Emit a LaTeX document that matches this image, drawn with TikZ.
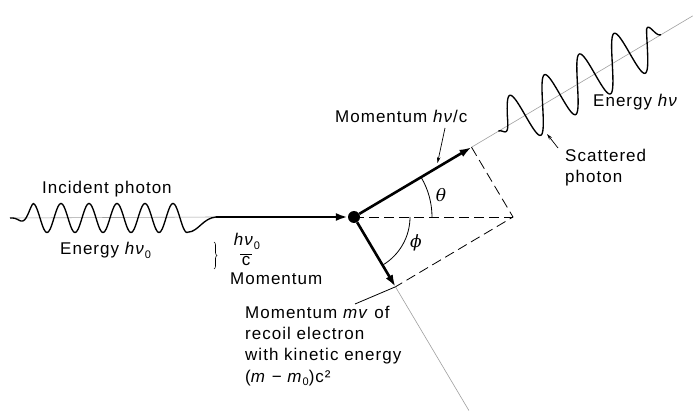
\documentclass[tikz,border=0pt]{standalone}
\usepackage{fontspec}
\setmainfont{Liberation Sans}[LetterSpace=6]
\newfontfamily\grk{DejaVu Serif}
\usetikzlibrary{arrows.meta,decorations.pathreplacing,calc}
\newcommand\lo[1]{\raisebox{-0.35ex}{\fontsize{11}{11}\selectfont #1}}
\begin{document}
\begin{tikzpicture}[x=1pt,y=1pt,
  lab/.style={font=\fontsize{17}{21.3}\selectfont, inner sep=0pt},
  greek/.style={font=\grk\itshape\fontsize{17}{20}\selectfont, inner sep=0pt},
  momarrow/.style={line width=2.6pt, -{Latex[length=12pt,width=8pt]}},
  dashln/.style={line width=0.8pt, dash pattern=on 10pt off 5pt},
  axisln/.style={line width=0.6pt, gray!75},
  wave/.style={line width=1.35pt},
  leader/.style={line width=0.7pt, -{Stealth[length=6pt,width=3.5pt]}},
  thinln/.style={line width=0.8pt}
]
\useasboundingbox (0,0) rectangle (694,-414);

% key points
\node[circle, fill, inner sep=0pt, minimum size=12pt] (e) at (354,-217) {};
\coordinate (inc) at (216,-217);
\coordinate (w0) at (10,-218);
\coordinate (s) at ($(e)+(30.7:136.7)$);
\coordinate (h) at (513,-217);
\coordinate (f) at ($(e)+(-59.3:81.2)$);
\coordinate (send) at ($(e)+(30.7:394)$);
\coordinate (fend) at ($(e)+(-59.3:225)$);
\coordinate (lead) at (355,-304);

% thin axis lines
\draw[axisln] (w0) -- (inc);
\draw[axisln] (s) -- (send);
\draw[axisln] (f) -- (fend);

% dashed construction lines
\draw[dashln] (e.center) -- (h);
\draw[dashln] (s) -- (h) -- (f);
\draw[thinln] (f) -- (lead);

% angle arcs
\draw[thinln] ($(e)+(0:78)$) arc[start angle=0, end angle=30.7, radius=78];
\draw[thinln] ($(e)+(0:56)$) arc[start angle=0, end angle=-59.3, radius=56];
\node[greek] (th) at (441,-195) {θ};
\node[greek] (ph) at (416,-243) {ϕ};

% incident wave
\draw[wave] plot[domain=10:188, samples=160, smooth]
  (\x, {-218 + 14.5*min(1,((\x-10)/23)^2)*sin(((\x-26)/28)*360)})
  .. controls (198,-232) and (203,-218) .. (inc);

% scattered wave
\begin{scope}[shift={(354,-217)}, rotate=30.7]
\draw[wave] plot[domain=168:357, samples=240, smooth]
  ({\x + 6.73*min(1,((\x-168)/13)^2,((358-\x)/14)^2)*sin(((\x-178.9)/40.5)*360)},
   {25.1*min(1,((\x-168)/13)^2,((358-\x)/14)^2)*sin(((\x-178.9)/40.5)*360)});
\end{scope}

% momentum arrows
\draw[momarrow] (inc) -- (e);
\draw[momarrow] (e) -- (s);
\draw[momarrow] (e) -- (f);

% labels
\node[lab, anchor=base west] (incl) at (42,-194) {Incident photon};
\node[lab, anchor=base west] (en0) at (60,-255) {Energy \textit{hν}\lo{0}};
\draw[decorate, decoration={brace, amplitude=3pt}, line width=0.6pt] (214,-242) -- (214,-269);
\node[lab, anchor=base] (num) at (247,-246) {\textit{hν}\lo{0}};
\draw[line width=0.5pt] (240,-254) -- (252,-254);
\node[lab, anchor=base] (den) at (246,-266) {c};
\node[lab, anchor=base west] (mom0) at (230,-285) {Momentum};

\node[lab, anchor=base west] (moms) at (335,-123) {Momentum \textit{hν}/c};
\coordinate (ml) at (445,-128);
\coordinate (mt) at (437.5,-163);
\draw[leader] (ml) -- (mt);

\node[lab, anchor=base west] (ens) at (593,-107) {Energy \textit{hν}};
\node[lab, anchor=base west, align=left] (scl) at (565,-183) {Scattered\\photon};
\coordinate (sl) at (558,-148);
\coordinate (st) at (547,-134);
\draw[leader] (sl) -- (st);

\node[lab, anchor=base west, align=left] (rec) at (245,-382)
  {Momentum \textit{mv} of\\recoil electron\\with kinetic energy\\(\textit{m} − \textit{m}\lo{0})c²};
\end{tikzpicture}
\end{document}
